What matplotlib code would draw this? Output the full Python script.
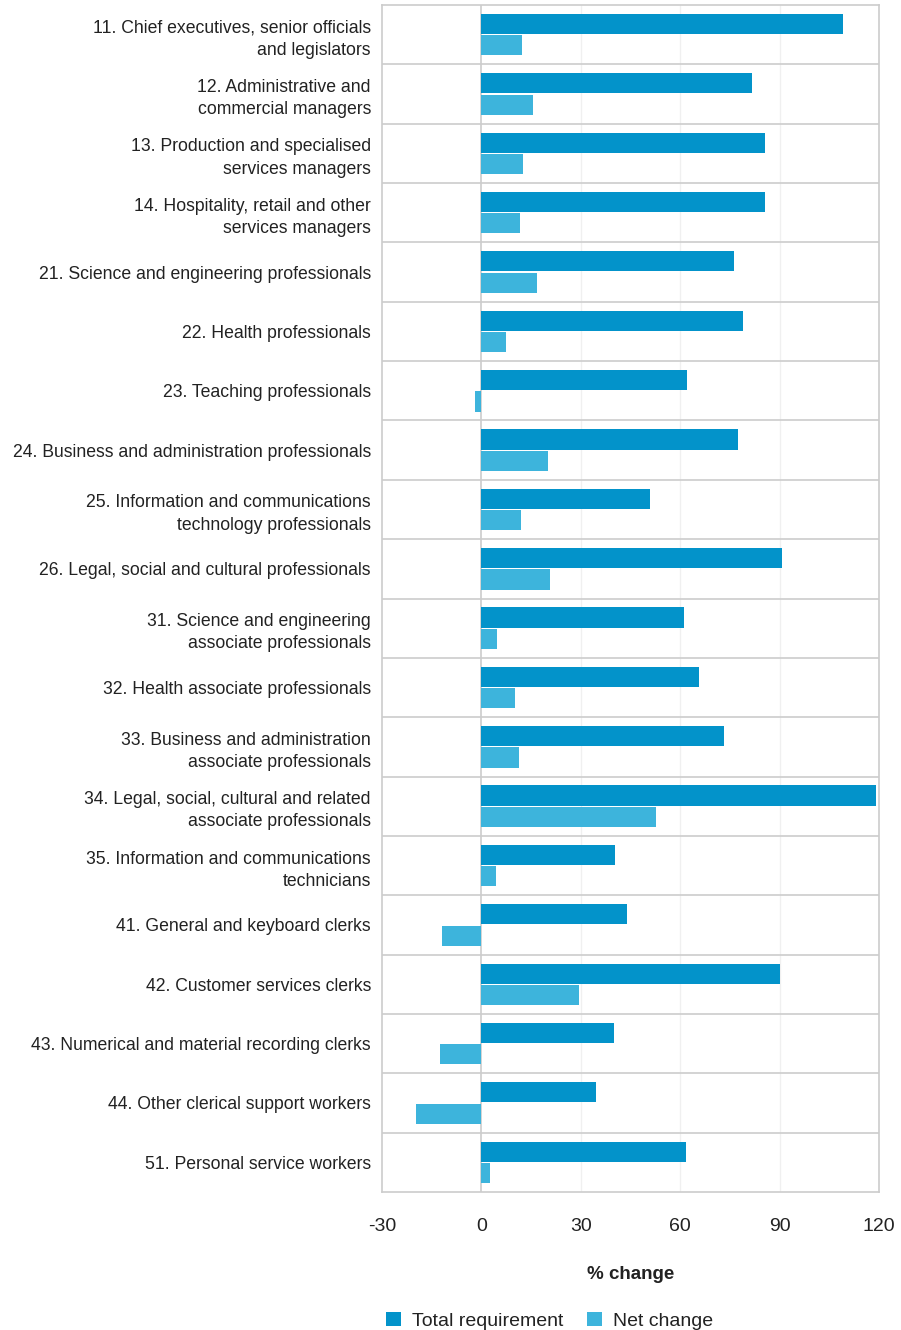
import matplotlib.pyplot as plt
import numpy as np

plt.rcParams['font.family'] = ['Liberation Sans', 'DejaVu Sans']

# 職業カテゴリ
categories = [
    '11. Chief executives, senior officials\nand legislators',
    '12. Administrative and\ncommercial managers',
    '13. Production and specialised\nservices managers',
    '14. Hospitality, retail and other\nservices managers',
    '21. Science and engineering professionals',
    '22. Health professionals',
    '23. Teaching professionals',
    '24. Business and administration professionals',
    '25. Information and communications\ntechnology professionals',
    '26. Legal, social and cultural professionals',
    '31. Science and engineering\nassociate professionals',
    '32. Health associate professionals',
    '33. Business and administration\nassociate professionals',
    '34. Legal, social, cultural and related\nassociate professionals',
    '35. Information and communications\ntechnicians',
    '41. General and keyboard clerks',
    '42. Customer services clerks',
    '43. Numerical and material recording clerks',
    '44. Other clerical support workers',
    '51. Personal service workers',
]

total_requirement = [109, 81.6, 85.5, 85.5, 76.1, 78.9, 62.2, 77.3, 50.8, 90.6,
                     61, 65.6, 73.1, 119, 40.2, 43.8, 90, 39.9, 34.7, 61.6]
net_change = [12.4, 15.7, 12.7, 11.5, 16.9, 7.3, -2, 20.2, 12.1, 20.8,
              4.8, 10, 11.2, 52.6, 4.5, -12, 29.6, -12.4, -19.6, 2.7]

x_ticks = [-30, 0, 30, 60, 90, 120]

dark = '#0393CA'
light = '#3DB4DC'
grid_col = '#cccccc'
text_col = '#222222'

fig = plt.figure(figsize=(9.01, 13.3), dpi=100)
ax = fig.add_axes([382 / 901, 1 - 1192 / 1330, 497 / 901, 1187 / 1330])

y = np.arange(len(categories))
ax.barh(y - 0.18, total_requirement, height=0.34, color=dark, label='Total requirement', zorder=3)
ax.barh(y + 0.18, net_change, height=0.34, color=light, label='Net change', zorder=3)

ax.set_xlim(-30, 120)
ax.set_ylim(len(categories) - 0.5, -0.5)
ax.set_xticks(x_ticks)
ax.set_xticklabels([str(t) for t in x_ticks], fontsize=14, color=text_col)
ax.set_yticks(y)
ax.set_yticklabels(categories, fontsize=12.7, color=text_col, linespacing=1.4)
ax.tick_params(axis='y', length=0, pad=8)
ax.tick_params(axis='x', length=0, pad=19)

# 区切り線とグリッド
for b in np.arange(0.5, len(categories) - 0.5, 1):
    ax.axhline(b, color=grid_col, lw=1.2, zorder=1)
for v in [30, 60, 90]:
    ax.axvline(v, color='#f0f0f0', lw=1, zorder=0)
ax.axvline(0, color=grid_col, lw=1.2, zorder=2)
for s in ax.spines.values():
    s.set_color(grid_col)
    s.set_linewidth(1.2)

ax.set_xlabel('% change', fontsize=13.5, fontweight='bold', color=text_col, labelpad=22)

fig.legend(loc='lower left', bbox_to_anchor=(386 / 901, 0.0), ncol=2, frameon=False,
           fontsize=14, handlelength=0.75, handleheight=0.75, columnspacing=1.2,
           handletextpad=0.6, labelcolor=text_col, borderpad=0, borderaxespad=0)

plt.savefig('out.png', dpi=100)
